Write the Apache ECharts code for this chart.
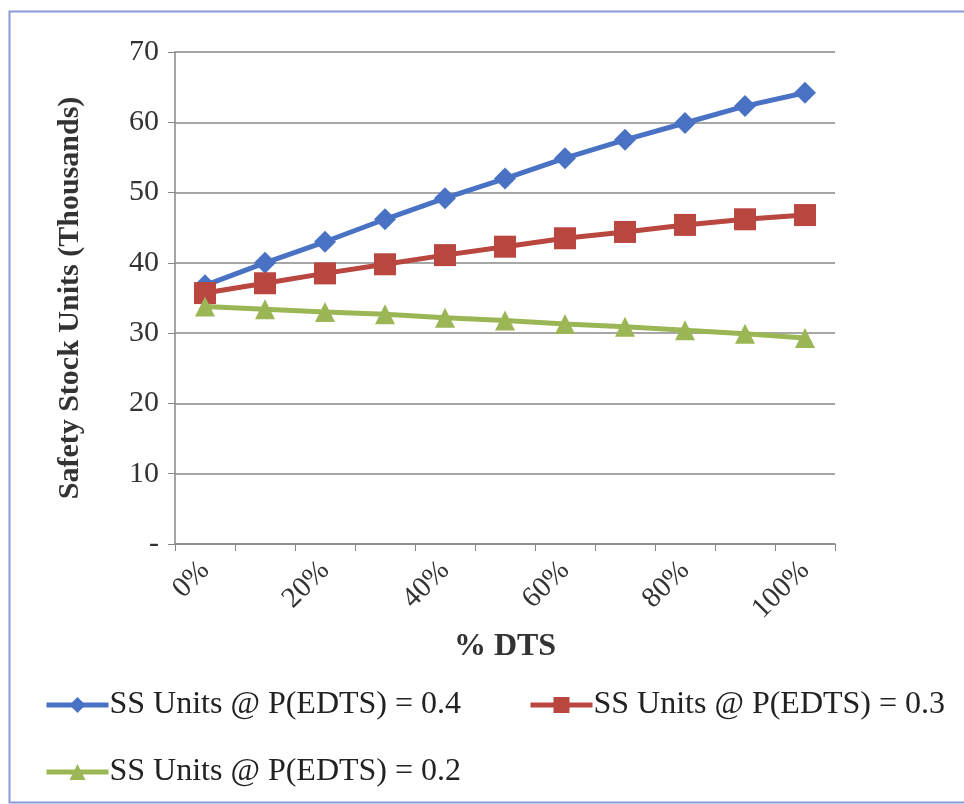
<!DOCTYPE html>
<html>
<head>
<meta charset="utf-8">
<script src="https://cdn.jsdelivr.net/npm/echarts@6/dist/echarts.min.js"></script>
<style>html,body{margin:0;padding:0;background:#fff}#c{width:964px;height:804px}</style>
</head>
<body>
<div id="c"></div>
<script>
var categories = ['0%','10%','20%','30%','40%','50%','60%','70%','80%','90%','100%'];
var ss04 = [36.8, 40.0, 43.0, 46.2, 49.2, 52.0, 54.9, 57.5, 59.9, 62.3, 64.2];
var ss03 = [35.7, 37.1, 38.5, 39.8, 41.1, 42.3, 43.5, 44.4, 45.4, 46.2, 46.8];
var ss02 = [33.8, 33.4, 33.0, 32.7, 32.2, 31.8, 31.3, 30.9, 30.4, 29.9, 29.3];
var seriesNames = ['SS Units @ P(EDTS) = 0.4', 'SS Units @ P(EDTS) = 0.3', 'SS Units @ P(EDTS) = 0.2'];
var yTicks = [0, 10, 20, 30, 40, 50, 60, 70];

var font = '"Liberation Serif", "Times New Roman", serif';
var chart = echarts.init(document.getElementById('c'), null, {renderer: 'canvas'});
function mk(name, data, color, symbol, size) {
  return {
    name: name, type: 'line', data: data,
    symbol: symbol, symbolSize: size,
    lineStyle: {color: color, width: 5},
    itemStyle: {color: color},
    emphasis: {disabled: true},
    animation: false
  };
}
var legendText = {fontFamily: font, fontSize: 32, color: '#222', padding: [0, 0, 0, -4]};
function lg(name, left, top) {
  return {
    data: [name], left: left, top: top, itemWidth: 62, itemHeight: 20,
    textStyle: legendText, padding: 0, itemGap: 0,
    lineStyle: {width: 5}
  };
}
chart.setOption({
  backgroundColor: '#fff',
  animation: false,
  graphic: [{
    type: 'rect', left: 7, top: 9, silent: true,
    shape: {width: 975, height: 791},
    style: {fill: 'none', stroke: '#8a9ad8', lineWidth: 2}
  }],
  legend: [
    lg(seriesNames[0], 44, 689),
    lg(seriesNames[1], 528, 689),
    lg(seriesNames[2], 44, 756)
  ],
  grid: {left: 175, right: 129, top: 52, bottom: 260, containLabel: false},
  xAxis: {
    type: 'category', data: categories, boundaryGap: true,
    name: '% DTS', nameLocation: 'middle', nameGap: 84,
    nameTextStyle: {fontFamily: font, fontSize: 32, fontWeight: 'bold', color: '#333'},
    axisLine: {lineStyle: {color: '#888', width: 1.5}},
    axisTick: {show: true, interval: 0, length: 7, lineStyle: {color: '#888'}},
    axisLabel: {interval: 1, rotate: 45, margin: 22, fontFamily: font, fontSize: 29, color: '#333'},
    splitLine: {show: false}
  },
  yAxis: {
    type: 'value', min: 0, max: 70, interval: 10,
    name: 'Safety Stock Units (Thousands)', nameLocation: 'middle', nameGap: 90,
    nameTextStyle: {fontFamily: font, fontSize: 30, fontWeight: 'bold', color: '#333'},
    axisLine: {show: true, lineStyle: {color: '#888', width: 1.5}},
    axisTick: {show: true, length: 7, lineStyle: {color: '#888'}},
    axisLabel: {
      margin: 16, fontFamily: font, fontSize: 30, color: '#333',
      formatter: function (v) { return v === yTicks[0] ? '-' : String(v); }
    },
    splitLine: {show: true, lineStyle: {color: '#8a8a8a', width: 1.5}}
  },
  series: [
    mk(seriesNames[0], ss04, '#4a72c4', 'diamond', 22),
    mk(seriesNames[1], ss03, '#b9463f', 'rect', 22),
    mk(seriesNames[2], ss02, '#9bb655', 'triangle', 20)
  ]
});
</script>
</body>
</html>
